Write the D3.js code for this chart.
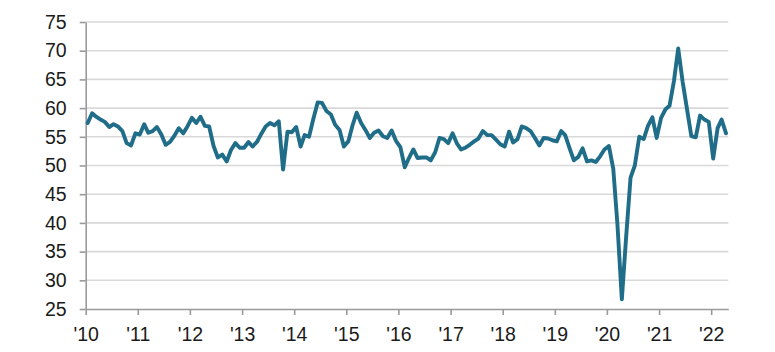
<!DOCTYPE html>
<html>
<head>
<meta charset="utf-8">
<script src="https://cdn.jsdelivr.net/npm/d3@7"></script>
<style>
  html, body { margin: 0; padding: 0; background: #ffffff; }
  svg { display: block; }
  text { font-family: "Liberation Sans", Arial, sans-serif; fill: #1a1a1a; }
</style>
</head>
<body>
<svg id="chart" width="775" height="352"></svg>
<script>
// Monthly values, Jan 2010 .. Apr 2022
const startYear = 2010;
const values2010 = [57.4, 59.1, 58.5, 58.0, 57.6, 56.7, 57.2, 56.8, 56.0, 53.9, 53.5, 55.6];
const values2011 = [55.4, 57.2, 55.7, 56.0, 56.7, 55.4, 53.6, 54.1, 55.2, 56.5, 55.6, 56.8];
const values2012 = [58.3, 57.4, 58.5, 56.9, 56.8, 53.4, 51.4, 51.9, 50.7, 52.7, 53.9, 53.1];
const values2013 = [53.1, 54.1, 53.3, 54.1, 55.5, 56.8, 57.4, 57.0, 57.7, 49.3, 55.9, 55.8];
const values2014 = [56.7, 53.3, 55.3, 55.0, 58.1, 61.0, 60.9, 59.5, 58.9, 57.1, 56.2, 53.3];
const values2015 = [54.2, 57.1, 59.2, 57.4, 56.2, 54.8, 55.7, 56.1, 55.1, 54.8, 56.1, 54.3];
const values2016 = [53.2, 49.7, 51.3, 52.8, 51.3, 51.4, 51.4, 50.9, 52.3, 54.8, 54.6, 53.9];
const values2017 = [55.6, 53.8, 52.8, 53.1, 53.6, 54.2, 54.7, 56.0, 55.3, 55.3, 54.5, 53.7];
const values2018 = [53.3, 55.9, 54.0, 54.6, 56.8, 56.5, 56.0, 54.8, 53.5, 54.8, 54.7, 54.4];
const values2019 = [54.2, 56.0, 55.3, 53.0, 50.9, 51.5, 53.0, 50.7, 50.9, 50.6, 51.6, 52.8];
const values2020 = [53.4, 49.4, 39.8, 26.7, 37.5, 47.9, 50.0, 55.0, 54.6, 56.9, 58.4, 54.8];
const values2021 = [58.3, 59.8, 60.4, 64.7, 70.4, 64.6, 59.9, 55.1, 54.9, 58.7, 58.0, 57.6];
const values2022 = [51.2, 56.5, 58.0, 55.6];

const yTicks = [25, 30, 35, 40, 45, 50, 55, 60, 65, 70, 75];
const xTickYears = [2010, 2011, 2012, 2013, 2014, 2015, 2016, 2017, 2018, 2019, 2020, 2021, 2022];

const allValues = [].concat(values2010, values2011, values2012, values2013, values2014,
  values2015, values2016, values2017, values2018, values2019, values2020, values2021, values2022);
const data = allValues.map((v, i) => ({
  date: new Date(startYear + Math.floor(i / 12), i % 12, 15),
  value: v
}));

const svg = d3.select("#chart");
const plotLeft = 85.7, plotRight = 728.3, plotTop = 22, plotBottom = 309;

const x = d3.scaleTime()
  .domain([new Date(2010, 0, 1), new Date(2022, 4, 1)])
  .range([plotLeft, plotRight]);
const y = d3.scaleLinear().domain([25, 75]).range([plotBottom, plotTop]);

// gridlines
svg.append("g").selectAll("line")
  .data(yTicks.filter(d => d !== 25))
  .join("line")
  .attr("x1", plotLeft).attr("x2", plotRight)
  .attr("y1", d => y(d)).attr("y2", d => y(d))
  .attr("stroke", "#d9d9d9").attr("stroke-width", 1.6);

// y axis
const yAxis = svg.append("g")
  .attr("transform", `translate(${plotLeft},0)`)
  .call(d3.axisLeft(y).tickValues(yTicks).tickSize(6).tickPadding(13).tickSizeOuter(0));
yAxis.select(".domain").attr("stroke", "#9a9a9a").attr("stroke-width", 1.6);
yAxis.selectAll(".tick line").attr("stroke", "#9a9a9a").attr("stroke-width", 1.6);
yAxis.selectAll(".tick text")
  .style("font-size", "19.5px")
  .style("font-family", "'Liberation Sans', Arial, sans-serif")
  .attr("fill", "#111111");

// x axis
const xAxis = svg.append("g")
  .attr("transform", `translate(0,${plotBottom})`)
  .call(d3.axisBottom(x)
    .tickValues(xTickYears.map(yr => new Date(yr, 0, 1)))
    .tickFormat(d3.timeFormat("'%y"))
    .tickSize(6).tickPadding(12).tickSizeOuter(0));
xAxis.select(".domain").attr("stroke", "#9a9a9a").attr("stroke-width", 1.6);
xAxis.selectAll(".tick line").attr("stroke", "#9a9a9a").attr("stroke-width", 1.6);
xAxis.selectAll(".tick text")
  .style("font-size", "19.5px")
  .style("font-family", "'Liberation Sans', Arial, sans-serif")
  .attr("fill", "#111111");

// line
const line = d3.line().x(d => x(d.date)).y(d => y(d.value));
svg.append("path")
  .datum(data)
  .attr("d", line)
  .attr("fill", "none")
  .attr("stroke", "#1f6d89")
  .attr("stroke-width", 3.9)
  .attr("stroke-linejoin", "round")
  .attr("stroke-linecap", "round");
</script>
</body>
</html>
